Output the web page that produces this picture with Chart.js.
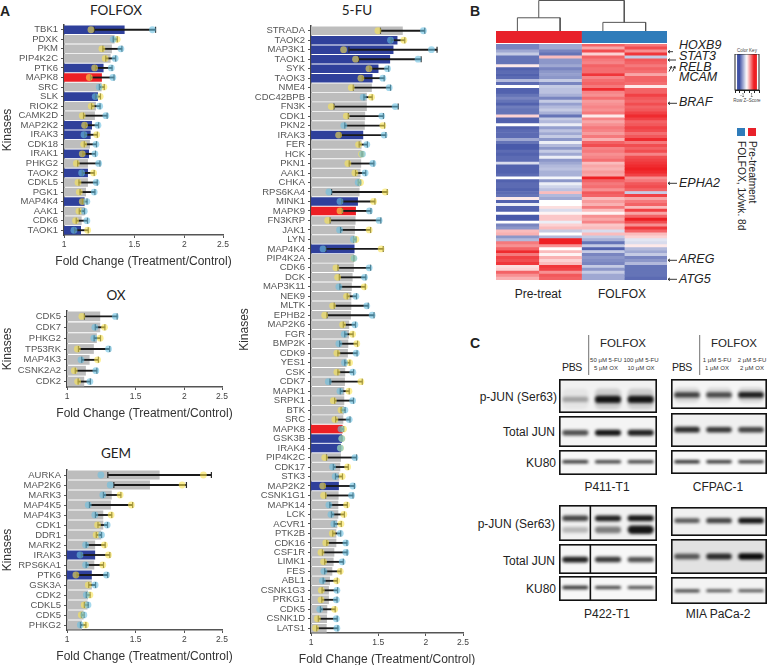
<!DOCTYPE html>
<html><head><meta charset="utf-8">
<script src="https://cdn.jsdelivr.net/npm/chart.js@4"></script>
<style>
html,body{margin:0;padding:0;background:#fff;overflow:hidden}
#page{position:relative;width:768px;height:665px;overflow:hidden;font-family:"Liberation Sans",Arial,sans-serif;color:#222}
canvas{position:absolute;display:block}
.t{position:absolute;white-space:nowrap;line-height:1;transform:translate(-50%,-50%)}
.r{position:absolute;white-space:nowrap;line-height:1;transform:translate(-100%,-50%)}
.l{position:absolute;white-space:nowrap;line-height:1;transform:translate(0,-50%)}
.h{font-family:Lato,"Open Sans",sans-serif;font-size:13.5px;color:#222}
.g{font-size:12px;color:#222}
.s{font-size:6px;color:#333}
.i{font-size:12.5px;font-style:italic;color:#222}
.v{position:absolute;writing-mode:vertical-rl;white-space:nowrap;font-size:10.2px;line-height:1;color:#222}
</style></head>
<body><div id="page">
<div class="l" style="left:0;top:11px;font:bold 14px 'Liberation Sans'">A</div>
<div class="l" style="left:470px;top:11px;font:bold 14px 'Liberation Sans'">B</div>
<div class="l" style="left:470px;top:343px;font:bold 14px 'Liberation Sans'">C</div>
<div class="t h" style="left:116px;top:11px">FOLFOX</div>
<div class="t h" style="left:116px;top:296px">OX</div>
<div class="t h" style="left:116px;top:454px">GEM</div>
<div class="t h" style="left:357px;top:11px">5-FU</div>

<div class="l i" style="left:679px;top:45px">HOXB9</div>
<div class="l i" style="left:679px;top:56px">STAT3</div>
<div class="l i" style="left:679px;top:67px">RELB</div>
<div class="l i" style="left:679px;top:77px">MCAM</div>
<div class="l i" style="left:679px;top:102px">BRAF</div>
<div class="l i" style="left:679px;top:183px">EPHA2</div>
<div class="l i" style="left:679px;top:259px">AREG</div>
<div class="l i" style="left:679px;top:279px">ATG5</div>
<div class="t g" style="left:538px;top:294px">Pre-treat</div>
<div class="t g" style="left:622px;top:294px">FOLFOX</div>
<div class="t" style="left:747px;top:51px;font-size:4.5px;color:#444">Color Key</div>
<div class="t" style="left:747px;top:101px;font-size:4.5px;color:#444">Row Z–Score</div>
<div style="position:absolute;left:737px;top:128px;width:8px;height:7.5px;background:#2f7cba"></div>
<div style="position:absolute;left:748px;top:128px;width:8px;height:7.5px;background:#e8212a"></div>
<div class="v" style="left:736px;top:141px">FOLFOX, 1x/wk. 8d</div>
<div class="v" style="left:747px;top:141px">Pre-treatment</div>

<svg style="position:absolute;left:0;top:0" width="768" height="665" fill="none" stroke="#222" stroke-width="0.9">
<path d="M668 51.7H673M668 51.7l2-1.4M668 51.7l2 1.4"/>
<path d="M668 60H676M668 60l2-1.4M668 60l2 1.4"/>
<path d="M669 71.5L671.5 66.5M671.5 66.5l-2 1M671.5 66.5l.4 2"/>
<path d="M672.5 71.5L675 66.5M675 66.5l-2 1M675 66.5l.4 2"/>
<path d="M668 103.3H677M668 103.3l2-1.4M668 103.3l2 1.4"/>
<path d="M668 183.3H677M668 183.3l2-1.4M668 183.3l2 1.4"/>
<path d="M668 260.3H677M668 260.3l2-1.4M668 260.3l2 1.4"/>
<path d="M668 279.3H677M668 279.3l2-1.4M668 279.3l2 1.4"/>
<path stroke="#333" stroke-width="0.7" d="M588.7 335V375M699.7 335V375"/>
</svg>

<div class="t g" style="left:623px;top:344px;font-size:11.5px">FOLFOX</div>
<div class="t g" style="left:734px;top:344px;font-size:11.5px">FOLFOX</div>
<div class="t g" style="left:572px;top:367px;font-size:10.5px;letter-spacing:-.3px">PBS</div>
<div class="t g" style="left:682px;top:367px;font-size:10.5px;letter-spacing:-.3px">PBS</div>
<div class="t s" style="left:606px;top:360px">50 µM 5-FU</div><div class="t s" style="left:606px;top:368px">5 µM OX</div>
<div class="t s" style="left:641px;top:360px">100 µM 5-FU</div><div class="t s" style="left:641px;top:368px">10 µM OX</div>
<div class="t s" style="left:717px;top:360px">1 µM 5-FU</div><div class="t s" style="left:717px;top:368px">1 µM OX</div>
<div class="t s" style="left:752px;top:360px">2 µM 5-FU</div><div class="t s" style="left:752px;top:368px">2 µM OX</div>
<div class="r g" style="left:557px;top:397px">p-JUN (Ser63)</div>
<div class="r g" style="left:555px;top:432px">Total JUN</div>
<div class="r g" style="left:556px;top:463px">KU80</div>
<div class="r g" style="left:555px;top:524px">p-JUN (Ser63)</div>
<div class="r g" style="left:555px;top:561px">Total JUN</div>
<div class="r g" style="left:556px;top:589px">KU80</div>
<div class="t g" style="left:607px;top:487px">P411-T1</div>
<div class="t g" style="left:718px;top:487px">CFPAC-1</div>
<div class="t g" style="left:607px;top:614px">P422-T1</div>
<div class="t g" style="left:718px;top:614px">MIA PaCa-2</div>
</div>
<script>
// ---------- Panel A data ----------
const folfoxKinases=['TBK1','PDXK','PKM','PIP4K2C','PTK6','MAPK8','SRC','SLK','RIOK2','CAMK2D','MAP2K2','IRAK3','CDK18','IRAK1','PHKG2','TAOK2','CDKL5','PGK1','MAP4K4','AAK1','CDK6','TAOK1'];
const folfoxMean=[1.418,1.338,1.318,1.308,1.256,1.244,1.242,1.216,1.202,1.195,1.175,1.166,1.161,1.155,1.148,1.148,1.148,1.135,1.126,1.126,1.107,1.103];
const folfoxRep1=[1.168,1.359,1.244,1.268,1.193,1.157,1.259,1.232,1.170,1.111,1.126,1.207,1.120,1.111,1.074,1.186,1.084,1.092,1.111,1.090,1.069,1.146];
const folfoxRep2=[1.665,1.328,1.388,1.343,1.313,1.325,1.225,1.197,1.228,1.273,1.216,1.122,1.202,1.195,1.221,1.107,1.204,1.190,1.141,1.124,1.141,1.059];
const folfoxLow=[1.189,1.328,1.251,1.272,1.199,1.165,1.226,1.199,1.172,1.119,1.131,1.127,1.124,1.115,1.082,1.111,1.090,1.097,1.112,1.092,1.073,1.063];
const folfoxHigh=[1.695,1.359,1.396,1.347,1.319,1.334,1.261,1.234,1.231,1.282,1.221,1.212,1.206,1.199,1.230,1.190,1.211,1.195,1.142,1.126,1.145,1.150];
const folfoxBlue=['TBK1','PTK6','SLK','MAP2K2','IRAK3','IRAK1','TAOK2','MAP4K4','TAOK1'];
const folfoxRed=['MAPK8'];

const oxKinases=['CDK5','CDK7','PHKG2','TP53RK','MAP4K3','CSNK2A2','CDK2'];
const oxMean=[1.217,1.217,1.193,1.172,1.143,1.118,1.107];
const oxRep1=[1.092,1.248,1.217,1.063,1.198,1.044,1.065];
const oxRep2=[1.331,1.179,1.172,1.278,1.086,1.186,1.145];
const oxLow=[1.108,1.182,1.174,1.070,1.091,1.050,1.068];
const oxHigh=[1.345,1.251,1.219,1.287,1.204,1.193,1.148];
const oxBlue=[];const oxRed=[];

const gemKinases=['AURKA','MAP2K6','MARK3','MAP4K5','MAP4K3','CDK1','DDR1','MARK2','IRAK3','RPS6KA1','PTK6','GSK3A','CDK2','CDKL5','CDK5','PHKG2'];
const gemMean=[1.729,1.633,1.303,1.296,1.239,1.239,1.224,1.181,1.181,1.175,1.158,1.158,1.132,1.129,1.103,1.092];
const gemRep1=[2.240,1.975,1.369,1.463,1.298,1.198,1.188,1.248,1.278,1.236,1.054,1.134,1.145,1.107,1.088,1.116];
const gemRep2=[1.222,1.291,1.236,1.134,1.179,1.268,1.226,1.116,1.080,1.116,1.263,1.181,1.121,1.132,1.105,1.082];
const gemLow=[1.273,1.319,1.240,1.142,1.183,1.201,1.189,1.120,1.088,1.120,1.061,1.137,1.121,1.108,1.089,1.083];
const gemHigh=[2.348,2.026,1.375,1.474,1.303,1.271,1.227,1.253,1.288,1.241,1.272,1.184,1.146,1.133,1.106,1.118];
const gemBlue=['IRAK3','PTK6'];const gemRed=[];

const fuKinases=['STRADA','TAOK2','MAP3K1','TAOK1','SYK','TAOK3','NME4','CDC42BPB','FN3K','CDK1','PKN2','IRAK3','FER','HCK','PKN1','AAK1','CHKA','RPS6KA4','MINK1','MAPK9','FN3KRP','JAK1','LYN','MAP4K4','PIP4K2A','CDK6','DCK','MAP3K11','NEK9','MLTK','EPHB2','MAP2K6','FGR','BMP2K','CDK9','YES1','CSK','CDK7','MAPK1','SRPK1','BTK','SRC','MAPK8','GSK3B','IRAK4','PIP4K2C','CDK17','STK3','MAP2K2','CSNK1G1','MAPK14','LCK','ACVR1','PTK2B','CDK16','CSF1R','LIMK1','FES','ABL1','CSNK1G3','PRKG1','CDK5','CSNK1D','LATS1'];
const fuMean=[1.739,1.684,1.644,1.611,1.502,1.449,1.443,1.400,1.400,1.386,1.383,1.370,1.356,1.356,1.353,1.348,1.343,1.340,1.327,1.311,1.308,1.303,1.300,1.300,1.295,1.295,1.285,1.279,1.275,1.275,1.272,1.259,1.257,1.252,1.249,1.239,1.229,1.227,1.222,1.222,1.219,1.215,1.210,1.205,1.198,1.198,1.193,1.186,1.183,1.181,1.179,1.179,1.172,1.165,1.165,1.151,1.146,1.137,1.121,1.114,1.114,1.103,1.101,1.099];
const fuRep1=[1.497,1.750,1.217,1.308,1.418,1.351,1.275,1.440,1.130,1.237,1.542,1.181,1.332,1.356,1.249,1.303,1.348,1.564,1.458,1.191,1.106,1.420,1.311,1.526,1.292,1.162,1.174,1.378,1.239,1.139,1.086,1.210,1.285,1.318,1.169,1.262,1.169,1.351,1.257,1.144,1.198,1.155,1.217,1.205,1.195,1.086,1.247,1.207,1.073,1.079,1.239,1.219,1.198,1.137,1.093,1.062,1.079,1.193,1.167,1.064,1.062,1.153,1.039,1.028];
const fuRep2=[1.969,1.615,2.067,1.907,1.586,1.542,1.602,1.370,1.661,1.532,1.219,1.554,1.400,1.364,1.452,1.386,1.329,1.114,1.191,1.423,1.508,1.188,1.292,1.075,1.295,1.420,1.381,1.183,1.311,1.400,1.446,1.303,1.222,1.183,1.313,1.224,1.287,1.110,1.191,1.285,1.227,1.259,1.198,1.203,1.193,1.303,1.139,1.157,1.287,1.277,1.114,1.128,1.148,1.193,1.234,1.234,1.207,1.081,1.071,1.169,1.165,1.054,1.165,1.169];
const fuLow=[1.520,1.621,1.257,1.332,1.426,1.362,1.290,1.376,1.148,1.252,1.226,1.195,1.337,1.358,1.259,1.308,1.330,1.132,1.202,1.207,1.121,1.195,1.293,1.093,1.293,1.176,1.186,1.190,1.244,1.150,1.101,1.215,1.226,1.188,1.176,1.226,1.176,1.121,1.193,1.153,1.199,1.160,1.199,1.203,1.194,1.098,1.144,1.159,1.084,1.092,1.120,1.131,1.150,1.140,1.100,1.071,1.086,1.086,1.076,1.069,1.067,1.058,1.045,1.035];
const fuHigh=[1.985,1.760,2.138,1.942,1.597,1.554,1.615,1.446,1.691,1.547,1.558,1.570,1.405,1.366,1.461,1.391,1.349,1.583,1.470,1.435,1.523,1.432,1.312,1.545,1.296,1.432,1.392,1.387,1.316,1.412,1.462,1.308,1.289,1.324,1.320,1.264,1.293,1.362,1.259,1.292,1.228,1.265,1.218,1.206,1.196,1.316,1.252,1.209,1.299,1.288,1.245,1.223,1.200,1.196,1.242,1.243,1.215,1.198,1.172,1.174,1.170,1.157,1.171,1.176];
const fuBlue=['TAOK2','MAP3K1','TAOK1','SYK','TAOK3','IRAK3','MINK1','MAP4K4','GSK3B','IRAK4','MAP2K2'];
const fuRed=['MAPK9','MAPK8'];
const foldTicks=[1,1.5,2,2.5];

// ---------- Panel B data (row Z-scores) ----------
const heatPre1=[-.7,-.7,-.5,-.3,-.8,-.8,-.8,.1,-.9,-.85,-.9,-.85,-.4,-.85,0,-.9,-.9,-.8,-.7,-.8,-.9,-.75,-.8,-.8,.2,-.9,-.9,0,-.9,-.85,-.85,-.85,-.5,-.8,-.95,-.95,-.85,-.9,-.85,-.85,-.2,-.9,-.9,-.9,-.85,0,-.9,-.85,-.85,-.9,-.85,-.8,.1,-.9,-.1,-.9,-.9,0,-.95,-.95,0,-.7,-.6,.3,.35,-.6,-.4,.6,.5,.7,.95,.6,.85,.8,.9,.15,.2,.7,.5,.35];
const heatPre2=[-.5,-.5,-.7,-.8,.3,-.6,-.6,-.5,-.7,-.6,-.55,-.6,-.3,-.7,-.3,-.35,-.35,-.45,-.7,-.3,-.55,-.4,-.3,-.45,-.8,-.3,-.4,-.1,-.55,-.35,-.5,-.3,-.6,-.1,-.4,-.6,-.3,-.5,-.1,-.6,-.5,-.4,-.35,-.45,-.45,-.05,-.6,-.1,-.25,-.35,.3,-.4,-.5,0,0,.15,-.2,.05,.25,.25,-.1,.2,.3,-.3,0,-.4,1,1,.5,0,.3,.05,.35,.2,.3,.9,.85,.5,.75,.7];
const heatFol1=[.7,.4,.8,.2,.7,.6,.55,.7,.65,.65,.9,.55,.65,.7,.6,.95,.55,.5,.65,.45,.5,.55,.5,.6,.1,.55,.4,.5,.6,.55,.45,.6,.35,.7,.8,.55,.6,.5,.55,.65,.3,.4,.35,.45,.4,1,.7,.6,.65,.5,.75,.7,.3,.45,.35,.6,.3,.05,.5,.4,.55,.25,.3,-.2,.3,-.3,-.45,-.8,-.3,-.9,-.3,-.7,-.6,-.65,-.7,-.3,-.6,-.3,-.5,-.5];
const heatFol2=[.6,.8,.5,.9,-.3,.75,.7,.6,.7,.65,.4,.7,.7,.65,.1,.7,.7,.85,.75,.7,.8,.7,.75,.85,.95,.85,.7,.75,.85,.8,.65,.75,.95,.6,.8,.7,.8,.55,.8,.85,.9,.95,1,.95,.85,.5,.6,.75,.8,.7,-.3,.85,.4,.6,.7,.3,.85,.4,.7,1,.8,.5,.9,.7,.3,.2,-.15,-.2,.1,-.4,-.5,-.3,-.7,-.6,-.4,-.8,-.8,-.8,-.8,-.85];
const heatRows=heatPre1.map((_,i)=>'r'+(i+1));
const dendroLeftMerge=13, dendroRightMerge=8.5, dendroTopMerge=30;
const keyLevels=[-1.9,-1.7,-1.5,-1.3,-1.1,-.9,-.7,-.5,-.3,-.1,.1,.3,.5,.7,.9,1.1,1.3,1.5,1.7,1.9];

// ---------- Panel C data (band intensity per lane) ----------
const p411Phospho=[.3,.95,.95],p411Total=[.7,.95,.9],p411Ku=[.9,.85,.85];
const cfpacPhospho=[.75,.7,.9],cfpacTotal=[.85,.8,.75],cfpacKu=[.95,.9,.85];
const p422PhosphoUpper=[.75,.9,.95],p422PhosphoLower=[.25,.5,.95],p422Total=[.9,.8,.7],p422Ku=[.85,.8,.75];
const miaPhospho=[.65,.75,.95],miaTotal=[.65,.85,1],miaKu=[.85,.8,.8];
const lanes=['PBS','Low dose','High dose'];

// ---------- helpers ----------
Chart.defaults.animation=false;
Chart.defaults.font.family='"Liberation Sans",Arial,sans-serif';
Chart.defaults.plugins.legend.display=false;
Chart.defaults.plugins.tooltip.enabled=false;
Chart.defaults.responsive=false;
Chart.defaults.events=[];
const page=document.getElementById('page');
function mk(x,y,w,h){const c=document.createElement('canvas');c.width=w;c.height=h;c.style.left=x+'px';c.style.top=y+'px';c.style.width=w+'px';c.style.height=h+'px';page.appendChild(c);return c;}

const GRAY='#bdbdbd',BLUE='#2f409b',RED='#ed1f24',YEL='rgba(250,228,80,.6)',CYA='rgba(105,192,225,.6)',INK='#1a1a1a';
function kinaseChart(p){
  const topPad=10,rightPad=14,xH=32;
  const w=p.r-p.x0+rightPad,h=p.b-p.t+topPad+xH;
  const colors=p.names.map(n=>p.blue.includes(n)?BLUE:p.red.includes(n)?RED:GRAY);
  const cap=(d,o)=>({type:'line',data:d,showLine:false,order:o,pointStyle:'line',rotation:90,pointRadius:3,pointBorderWidth:1.2,pointBorderColor:'#2a2a2a',pointBackgroundColor:'#2a2a2a'});
  const dot=(d,c,o)=>({type:'line',data:d,showLine:false,order:o,pointStyle:'circle',pointRadius:3.4,pointBorderWidth:0,pointBackgroundColor:c,pointBorderColor:c});
  new Chart(mk(p.x0,p.t-topPad,w,h),{
    type:'bar',
    data:{labels:p.names,datasets:[
      {data:p.mean,backgroundColor:colors,borderWidth:0,barPercentage:.9,categoryPercentage:1,grouped:false,order:9},
      {data:p.low.map((v,i)=>[v,p.high[i]]),backgroundColor:INK,borderWidth:0,barThickness:1.2,grouped:false,order:8},
      cap(p.low,7),cap(p.high,6),
      dot(p.rep1,YEL,4),dot(p.rep2,CYA,3)
    ]},
    options:{indexAxis:'y',maintainAspectRatio:false,
      layout:{padding:{top:topPad,right:rightPad,left:0,bottom:0}},
      scales:{
        x:{type:'logarithmic',min:1,max:2.5,
          afterBuildTicks(s){s.ticks=foldTicks.map(v=>({value:v}));},
          afterFit(s){s.height=xH;},
          ticks:{callback:v=>String(v),font:{size:8.5},color:'#444',padding:2,maxRotation:0,autoSkip:false},
          grid:{drawOnChartArea:false,tickLength:3,color:'#555'},
          border:{color:'#555',width:1.5}},
        y:{type:'category',offset:true,
          afterFit(s){s.width=p.l-p.x0;},
          ticks:{font:{size:9.5},color:'#555',padding:3,autoSkip:false},
          grid:{drawOnChartArea:false,tickLength:3,color:'#555',offset:false},
          border:{color:'#444',width:1.5},
          title:{display:true,text:'Kinases',font:{size:12},color:'#333',padding:0}}
      }}
  });
  // x-axis title: wider than the axis, so it is set as page text (Chart.js would squeeze it)
  const xt=document.createElement('div');xt.className='t g';xt.textContent='Fold Change (Treatment/Control)';
  xt.style.cssText='left:'+((p.l+p.r)/2)+'px;top:'+(p.b+25.5)+'px;color:#333';page.appendChild(xt);
}
kinaseChart({x0:0,l:64,r:223,t:25,b:235,names:folfoxKinases,mean:folfoxMean,rep1:folfoxRep1,rep2:folfoxRep2,low:folfoxLow,high:folfoxHigh,blue:folfoxBlue,red:folfoxRed});
kinaseChart({x0:0,l:67,r:222,t:311,b:387,names:oxKinases,mean:oxMean,rep1:oxRep1,rep2:oxRep2,low:oxLow,high:oxHigh,blue:oxBlue,red:oxRed});
kinaseChart({x0:0,l:67,r:222,t:470,b:630,names:gemKinases,mean:gemMean,rep1:gemRep1,rep2:gemRep2,low:gemLow,high:gemHigh,blue:gemBlue,red:gemRed});
kinaseChart({x0:237,l:311,r:463,t:26,b:633,names:fuKinases,mean:fuMean,rep1:fuRep1,rep2:fuRep2,low:fuLow,high:fuHigh,blue:fuBlue,red:fuRed});

function zColor(z){
  const t=Math.min(1,Math.abs(z));
  const c=z<0?[63,81,165]:[238,32,36];
  return 'rgb('+c.map(v=>Math.round(255+(v-255)*t)).join(',')+')';
}
// heatmap
new Chart(mk(496,44,171,236),{
  type:'bar',
  data:{labels:heatRows,datasets:[heatPre1,heatPre2,heatFol1,heatFol2].map((col,k)=>({
    data:col.map(()=>[k,k+1]),backgroundColor:col.map(zColor),borderWidth:0,barPercentage:1,categoryPercentage:1,grouped:false}))},
  options:{indexAxis:'y',maintainAspectRatio:false,layout:{padding:0},
    scales:{x:{type:'linear',min:0,max:4,display:false},y:{type:'category',offset:true,display:false}}}
});
// sample-group bar
new Chart(mk(496,31,171,12),{
  type:'bar',
  data:{labels:['Samples'],datasets:[
    {data:[[0,2]],backgroundColor:'#e8212a',borderWidth:0,barPercentage:1,categoryPercentage:1,grouped:false},
    {data:[[2,4]],backgroundColor:'#2f7cba',borderWidth:0,barPercentage:1,categoryPercentage:1,grouped:false}]},
  options:{indexAxis:'y',maintainAspectRatio:false,layout:{padding:0},
    scales:{x:{type:'linear',min:0,max:4,display:false},y:{type:'category',display:false}}}
});
// dendrogram
const dendroLine=pts=>({data:pts,showLine:true,pointRadius:0,borderColor:'#555',borderWidth:1,tension:0});
new Chart(mk(496,0,171,31),{
  type:'scatter',
  data:{datasets:[
    dendroLine([{x:.5,y:0},{x:.5,y:dendroLeftMerge},{x:1.5,y:dendroLeftMerge},{x:1.5,y:0}]),
    dendroLine([{x:2.5,y:0},{x:2.5,y:dendroRightMerge},{x:3.5,y:dendroRightMerge},{x:3.5,y:0}]),
    dendroLine([{x:1,y:dendroLeftMerge},{x:1,y:dendroTopMerge},{x:3,y:dendroTopMerge},{x:3,y:dendroRightMerge}])]},
  options:{maintainAspectRatio:false,layout:{padding:0},clip:false,
    scales:{x:{type:'linear',min:0,max:4,display:false},y:{type:'linear',min:0,max:30.5,display:false}}}
});
// colour key
new Chart(mk(733,54,28,44),{
  type:'bar',
  data:{datasets:[{data:keyLevels.map(z=>({x:z,y:1})),backgroundColor:keyLevels.map(z=>zColor(z/1.5)),borderWidth:0,barPercentage:1,categoryPercentage:1}]},
  options:{maintainAspectRatio:false,layout:{padding:{left:2,right:2}},
    scales:{
      x:{type:'linear',min:-2,max:2,afterFit(s){s.height=8;},
        ticks:{stepSize:1,font:{size:4.5},color:'#444',padding:0,maxRotation:0,autoSkip:false,callback:v=>(v===-1||v===1)?String(v):''},
        grid:{drawOnChartArea:false,tickLength:3,color:'#222'},border:{color:'#222',width:1}},
      y:{type:'linear',min:0,max:1,display:false}}},
  plugins:[{id:'keyFrame',afterDatasetsDraw(c){const a=c.chartArea,x=c.ctx;x.save();x.strokeStyle='#222';x.lineWidth=1;x.strokeRect(a.left,a.top,a.width,a.height);x.restore();}}]
});

// western blot panels: bands are floating bars on a lane / position scale
const blotFrame={id:'blotFrame',
  beforeDatasetsDraw(c,_,o){const a=c.chartArea,x=c.ctx;x.save();x.fillStyle=o.bg;x.fillRect(a.left,a.top,a.width,a.height);x.filter='blur(1.7px)';},
  afterDatasetsDraw(c,_,o){const a=c.chartArea,x=c.ctx;x.filter='none';x.restore();x.save();x.strokeStyle='#111';x.lineWidth=1.6;
    if(o.divider){const dx=a.left+a.width*o.divider;x.beginPath();x.moveTo(dx,a.top);x.lineTo(dx,a.bottom);x.stroke();}
    x.strokeRect(a.left+.8,a.top+.8,a.width-1.6,a.height-1.6);x.restore();}};
function blot(x,y,w,h,rows,bg,divider){
  new Chart(mk(x,y,w,h),{
    type:'bar',plugins:[blotFrame],
    data:{labels:lanes,datasets:rows.map(([center,thick,levels,haze])=>({
      data:levels.map(v=>{const t=haze?thick:thick*(.55+.45*v);return [center-t/2,center+t/2];}),
      backgroundColor:levels.map(v=>'rgba(8,8,8,'+v+')'),borderWidth:0,borderRadius:5,borderSkipped:false,
      barPercentage:.8,categoryPercentage:1,grouped:false,order:haze?2:1}))},
    options:{maintainAspectRatio:false,layout:{padding:0},
      plugins:{blotFrame:{bg,divider}},
      scales:{x:{type:'category',display:false,offset:true},y:{type:'linear',min:0,max:1,reverse:true,display:false}}}
  });
}
const haze=l=>l.map(v=>v*.16);
blot(559,379,98,34,[[.58,.6,haze(p411Phospho),1],[.6,.22,p411Phospho]],'#f1f1f1');
blot(416-416+559,416,98,31,[[.54,.2,p411Total]],'#f4f4f4');
blot(559,450,98,25,[[.47,.13,p411Ku]],'#f7f7f7');
blot(671,379,96,30,[[.53,.5,haze(cfpacPhospho),1],[.53,.2,cfpacPhospho]],'#f5f5f5');
blot(671,413,96,34,[[.49,.18,cfpacTotal]],'#f0f0f0');
blot(671,450,96,24,[[.49,.13,cfpacKu]],'#f8f8f8');
blot(559,505,98,36,[[.37,.17,p422PhosphoUpper],[.69,.24,p422PhosphoLower]],'#f1f1f1',.32);
blot(559,544,98,30,[[.52,.2,p422Total]],'#f7f7f7',.32);
blot(559,576,98,25,[[.46,.14,p422Ku]],'#f7f7f7',.32);
blot(671,507,96,29,[[.47,.2,miaPhospho]],'#f0f0f0');
blot(671,539,96,35,[[.5,.18,miaTotal]],'#e2e2e2');
blot(671,577,96,27,[[.51,.11,miaKu]],'#f3f3f3');
</script>
</body></html>
